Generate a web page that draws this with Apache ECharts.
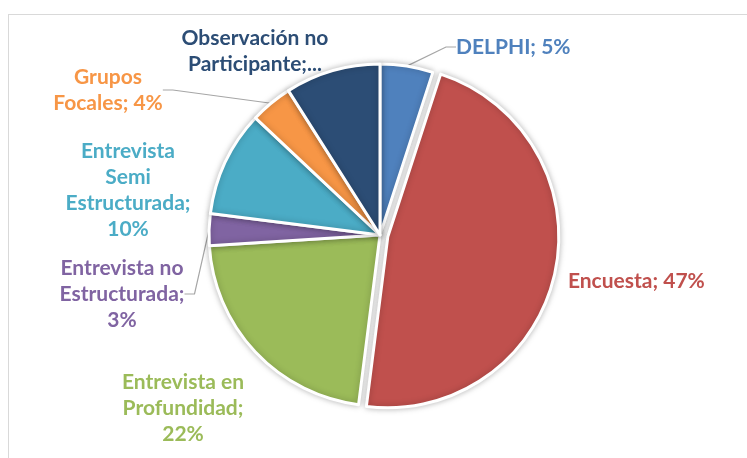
<!DOCTYPE html>
<html>
<head>
    <meta charset="UTF-8">
    <title>Técnicas</title>
    <style>
        html,body {
            height: 100%;
            width: 100%;
            margin: 0;
            padding: 0;
            background: #fff;
        }
        #frame {
            position: absolute;
            left: 8px;
            top: 14px;
            right: 0;
            bottom: 0;
            border-left: 1px solid #d9d9d9;
            border-top: 1px solid #d9d9d9;
        }
        #chart {
            position: absolute;
            left: 0;
            top: 0;
            width: 747px;
            height: 458px;
        }
    </style>
    <script src="https://cdn.jsdelivr.net/npm/echarts@6/dist/echarts.min.js"></script>
</head>
<body>
<div id="frame"></div>
<div id="chart"></div>
<script type="text/javascript">
    var categories = ['DELPHI', 'Encuesta', 'Entrevista en Profundidad', 'Entrevista no Estructurada',
        'Entrevista Semi Estructurada', 'Grupos Focales', 'Observación no Participante'];
    var values = [5, 47, 22, 3, 10, 4, 9];
    var labels = ['DELPHI; 5%', 'Encuesta; 47%', 'Entrevista en\nProfundidad;\n22%', 'Entrevista no\nEstructurada;\n3%',
        'Entrevista\nSemi\nEstructurada;\n10%', 'Grupos\nFocales; 4%', 'Observación no\nParticipante;...'];
    var colors = ['#4f81bd', '#c0504d', '#9bbb59', '#8064a2', '#4bacc6', '#f79646', '#2c4d75'];

    // donde Excel dejo cada etiqueta (la de Encuesta va con la porcion separada, null)
    var labelPos = [[456, 47], null, [183, 408], [122, 294], [128, 190], [108, 90], [255, 51]];
    var labelAlign = ['left', 'left', 'center', 'center', 'center', 'center', 'center'];
    var showLine = [true, false, false, true, false, true, false];

    var data = [];
    for (var i = 0; i < categories.length; i++) {
        var line = { show: showLine[i] };
        if (i == 1) {
            // linea oculta: solo sirve para dejar el texto donde estaba
            line.length = 33;
            line.length2 = -24;
        }
        data.push({
            name: categories[i],
            value: values[i],
            selected: i == 1,
            itemStyle: { color: colors[i] },
            label: { formatter: labels[i], color: colors[i], align: labelAlign[i] },
            labelLine: line
        });
    }

    var myChart = echarts.init(document.getElementById('chart'));
    var option = {
        animation: false,
        series: [{
            type: 'pie',
            center: [380, 235],
            radius: 171,
            startAngle: 90,
            clockwise: true,
            selectedMode: 'single',
            selectedOffset: 8,
            avoidLabelOverlap: false,
            data: data,
            itemStyle: {
                borderColor: '#fff',
                borderWidth: 3,
                shadowBlur: 6,
                shadowColor: 'rgba(0,0,0,0.25)'
            },
            label: {
                show: true,
                position: 'outside',
                fontFamily: 'Lato',
                fontWeight: 'bold',
                fontSize: 21,
                lineHeight: 26
            },
            labelLine: {
                length: 10,
                length2: 10,
                lineStyle: { color: '#a6a6a6', width: 1.2 }
            },
            labelLayout: function (params) {
                var p = labelPos[params.dataIndex];
                if (!p) return {};
                return {
                    x: p[0],
                    y: p[1],
                    align: labelAlign[params.dataIndex],
                    verticalAlign: 'middle'
                };
            },
            emphasis: { disabled: true }
        }]
    };
    myChart.setOption(option);
</script>
</body>
</html>
